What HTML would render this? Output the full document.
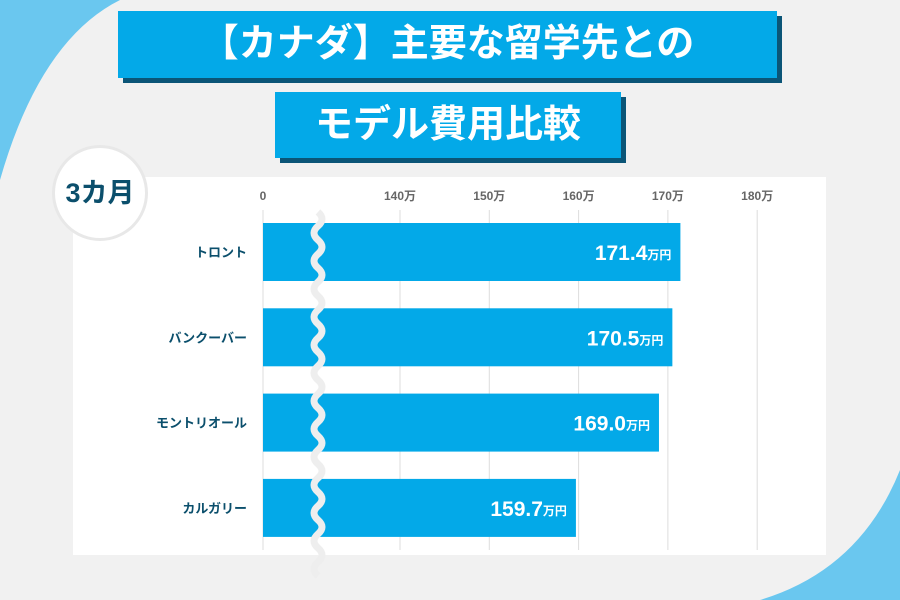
<!DOCTYPE html>
<html><head><meta charset="utf-8"><style>
body{margin:0;width:900px;height:600px;overflow:hidden;background:#f1f1f1;font-family:"Liberation Sans","Noto Sans CJK JP",sans-serif;position:relative}
.t{position:absolute;background:#03a9e8;color:#fff;font-weight:bold;text-align:center;box-shadow:5px 5px 0 #0b5577}
</style></head><body>
<svg width="900" height="600" style="position:absolute;left:0;top:0">
<path d="M0 0 L120 0 Q40 40 0 180 Z" fill="#6ac7ef"/>
<path d="M900 470 Q860 570 760 600 L900 600 Z" fill="#6ac7ef"/>
</svg>
<div class="t" style="left:118px;top:11px;width:659px;height:67px;line-height:67px;font-size:38px">【カナダ】主要な留学先との</div>
<div class="t" style="left:275px;top:92px;width:346px;height:66px;line-height:66px;font-size:38px">モデル費用比較</div>
<div style="position:absolute;left:73px;top:177px;width:753px;height:378px;background:#fff"></div>
<div style="position:absolute;left:52px;top:145px;width:96px;height:96px;border-radius:50%;background:#fff;border:3px solid #e8e8e8;box-sizing:border-box;text-align:center;line-height:90px;font-size:27px;font-weight:bold;color:#0b4f6c">3カ月</div>
<svg id="c" width="900" height="600" style="position:absolute;left:0;top:0"></svg>
<script>
const categories=["トロント","バンクーバー","モントリオール","カルガリー"];
const values=[171.4,170.5,169.0,159.7];
const valueLabels=["171.4","170.5","169.0","159.7"];
const ticks=[140,150,160,170,180];
const tickLabels=["140万","150万","160万","170万","180万"];
const NS="http://www.w3.org/2000/svg",svg=document.getElementById('c');
const x=v=>400+(v-140)*8.93;
const y0=223,step=85.3,bh=58,x0=263;
function mk(t,a,txt){const e=document.createElementNS(NS,t);for(const k in a)e.setAttribute(k,a[k]);if(txt!=null)e.textContent=txt;svg.appendChild(e);return e;}
let g=mk('line',{x1:x0,x2:x0,y1:210,y2:550,stroke:'#ddd'});


let z=mk('text',{x:x0,y:200,'text-anchor':'middle','font-size':12,'font-weight':'bold',fill:'#666'},'0');


ticks.forEach((t,i)=>{
 const l=mk('line',{x1:x(t),x2:x(t),y1:210,y2:550,stroke:'#ddd'});
 
 
 const tx=mk('text',{x:x(t),y:200,'text-anchor':'middle','font-size':12,'font-weight':'bold',fill:'#666'},tickLabels[i]);
 
 
});
categories.forEach((c,i)=>{
 const y=y0+i*step;
 const r=mk('rect',{x:x0,y:y,width:x(values[i])-x0,height:bh,fill:'#03a9e8'});
 
 
 const cl=mk('text',{x:247,y:y+bh/2+5,'text-anchor':'end','font-size':13,'font-weight':'bold',fill:'#0b4f6c'},c);
 
 
 const vl=mk('text',{x:x(values[i])-33,y:y+bh/2+8,'text-anchor':'end','font-size':21,'font-weight':'bold',fill:'#fff'},valueLabels[i]);
 
 
 const u=mk('text',{x:x(values[i])-33,y:y+bh/2+7,'font-size':12,'font-weight':'bold',fill:'#fff'},'万円');
 
 
});
let d='M318 212';
for(let yy=212;yy<552;yy+=28){d+=` Q326 ${yy+7} 318 ${yy+14} Q310 ${yy+21} 318 ${yy+28}`;}
const w=mk('path',{d:d,stroke:'#eee',fill:'none','stroke-width':7});


</script>
</body></html>
